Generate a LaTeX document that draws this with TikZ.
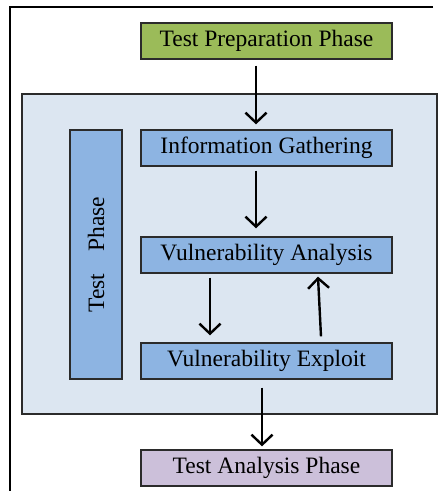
\documentclass[tikz,border=0pt]{standalone}
\usepackage{fontspec}
\setmainfont{Liberation Serif}
\usetikzlibrary{arrows.meta}
\definecolor{bgblue}{HTML}{DCE6F1}
\definecolor{boxblue}{HTML}{8DB4E2}
\definecolor{boxgreen}{HTML}{9BBB59}
\definecolor{boxpurple}{HTML}{CCC0DA}
\definecolor{edge}{HTML}{2B2B2B}
\tikzset{
  stepbox/.style={draw=edge, line width=1.3pt, minimum width=251pt, minimum height=36pt, inner sep=0pt, font=\fontsize{23.5}{26}\selectfont},
  arr/.style={line width=2.4pt, -{Straight Barb[length=10pt,width=21pt,line width=2.4pt]}},
}
\begin{document}
\begin{tikzpicture}[x=1pt,y=-1pt]
\useasboundingbox (0,0) rectangle (439,491);
\draw[line width=1.5pt] (433,7) -- (10,7) -- (10,491);
\node[draw=edge, line width=1.3pt, fill=bgblue, minimum width=415pt, minimum height=320pt, inner sep=0pt] (bg) at (229.5,254) {};
\node[stepbox, fill=boxgreen] (prep) at (266.5,41) {Test Preparation Phase};
\node[stepbox, fill=boxblue] (ig) at (266.5,148) {Information Gathering};
\node[stepbox, fill=boxblue] (va) at (266.5,255) {Vulnerability Analysis};
\node[stepbox, fill=boxblue] (ve) at (266.5,361) {Vulnerability Exploit};
\node[stepbox, fill=boxpurple] (tap) at (266.5,468) {Test Analysis Phase};
\node[draw=edge, line width=1.3pt, fill=boxblue, minimum width=52pt, minimum height=249pt, inner sep=0pt] (tp) at (96,254.5) {};
\node[rotate=90, font=\fontsize{23.5}{26}\selectfont] (tptext) at (tp.center) {Test\hspace{22pt}Phase};
\draw[arr] ([xshift=-10.5pt,yshift=-6pt]prep.south) -- ([xshift=-10.5pt,yshift=5pt]ig.north);
\draw[arr] ([xshift=-10.5pt,yshift=-4pt]ig.south) -- ([xshift=-10.5pt,yshift=8pt]va.north);
\draw[arr] ([xshift=-56.5pt,yshift=-4pt]va.south) -- ([xshift=-56.5pt,yshift=7pt]ve.north);
\draw[arr] ([xshift=54.5pt,yshift=6pt]ve.north) -- ([xshift=51.5pt,yshift=-3pt]va.south);
\draw[arr] ([xshift=-4.5pt,yshift=-8pt]ve.south) -- ([xshift=-4.5pt,yshift=3pt]tap.north);
\end{tikzpicture}
\end{document}
